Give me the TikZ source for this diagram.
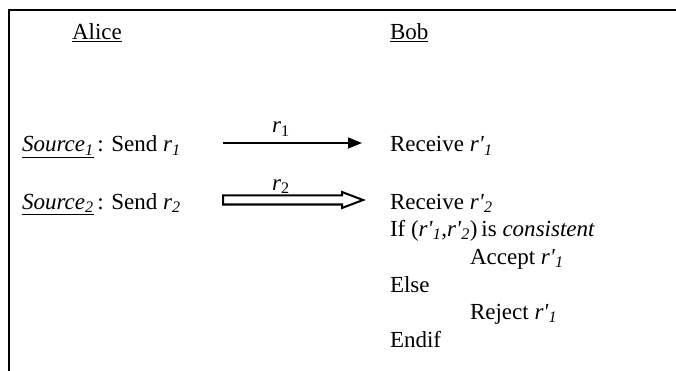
\documentclass[tikz,border=0pt]{standalone}
\usepackage{fontspec}
\setmainfont{Liberation Serif}
\usetikzlibrary{calc,arrows.meta}
\newcommand{\rr}[1]{\textit{r}\textsubscript{\textit{#1}}}
\newcommand{\rp}[1]{\textit{r\textquotesingle}\textsubscript{\textit{#1}}}
\begin{document}
\begin{tikzpicture}[x=1pt,y=-1pt,
  every node/.style={inner sep=0pt, outer sep=0pt, anchor=base west, font=\fontsize{23}{27.6}\selectfont},
  lbl/.style={anchor=base},
  thinarrow/.style={line width=1.4pt, -{Triangle[length=14pt,width=11pt]}},
  hollowarrow/.style={line width=2pt, line join=miter},
  frame/.style={line width=2pt}]
\useasboundingbox (0,0) rectangle (676,371);
\draw[frame] (9,371) -- (9,10) -- (676,10);

\node (alice) at (72,40) {\underline{Alice}};
\node (bob) at (390,40) {\underline{Bob}};

\node (s1) at (22,152) {\underline{\textit{Source}\textsubscript{\textit{1}}}\,: Send \rr{1}};
\node (s2) at (22,209) {\underline{\textit{Source}\textsubscript{\textit{2}}}\,: Send \rr{2}};

\node (rc1) at (390,152) {Receive \rp{1}};
\node (rc2) at (390,209) {Receive \rp{2}};
\node (if) at (390,236) {If (\rp{1},\rp{2})\,is \textit{consistent}};
\node (acc) at (470,264) {Accept \rp{1}};
\node (else) at (390,292) {Else};
\node (rej) at (470,319) {Reject \rp{1}};
\node (endif) at (390,347) {Endif};

\coordinate (a1s) at (223,143);
\coordinate (a1e) at (362,143);
\draw[thinarrow] (a1s) -- (a1e);
\node[lbl] (l1) at (281,133) {\textit{r}\textsubscript{1}};

\coordinate (a2s) at (223,200);
\coordinate (a2h) at (342,200);
\coordinate (a2e) at (363,200);
\draw[hollowarrow] ($(a2s)+(0,-4.5)$) -- ($(a2h)+(0,-4.5)$) -- ($(a2h)+(0,-8)$) -- (a2e)
  -- ($(a2h)+(0,8)$) -- ($(a2h)+(0,4.5)$) -- ($(a2s)+(0,4.5)$) -- cycle;
\node[lbl] (l2) at (281,190) {\textit{r}\textsubscript{2}};
\end{tikzpicture}
\end{document}
